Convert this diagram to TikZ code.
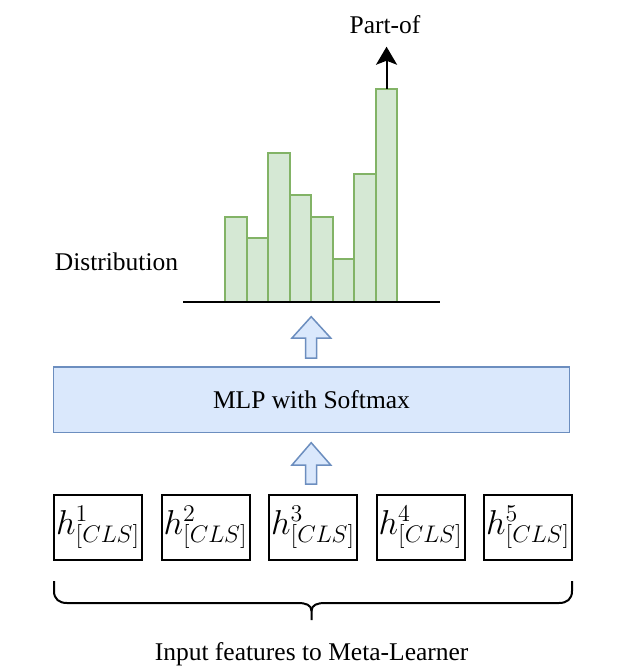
\documentclass[tikz,border=0pt]{standalone}
\usepackage{fontspec}
\setmainfont{Liberation Serif}
\usetikzlibrary{arrows.meta}
\definecolor{barfill}{HTML}{D5E8D4}
\definecolor{barline}{HTML}{82B366}
\definecolor{blfill}{HTML}{DAE8FC}
\definecolor{blline}{HTML}{6C8EBF}
\begin{document}
\begin{tikzpicture}[x=0.5pt,y=-0.5pt,
 lbl/.style={font=\fontsize{12.75}{15}\selectfont, inner sep=0pt},
 bar/.style={draw=barline, fill=barfill, line width=1pt, inner sep=0pt, outer sep=0pt, minimum width=10.77pt, anchor=south west},
 mlpbox/.style={draw=blline, fill=blfill, line width=0.75pt, minimum width=258pt, minimum height=32.75pt, inner sep=0pt, font=\fontsize{12.75}{15}\selectfont},
 featbox/.style={draw=black, line width=1pt, minimum width=44pt, minimum height=32.5pt, inner sep=0pt, font=\fontsize{16.5}{18}\selectfont},
 blockarrow/.style={draw=blline, fill=blfill, line width=0.75pt, line join=miter},
 blackline/.style={draw=black, line width=1pt},
]
\useasboundingbox[fill=white] (0,0) rectangle (623,671);

% histogram
\foreach \h [count=\i] in {4,3,7,5,4,2,6,10}
  \node[bar, minimum height=\h*10.675pt] (b\i) at ({225+(\i-1)*21.54}, 302) {};
\coordinate (axl) at (183,302);
\coordinate (axr) at (440,302);
\draw[blackline] (axl) -- (axr);

\node[lbl, anchor=base] (partof) at (385,33.3) {Part-of};
\coordinate (ptip) at (386.5,46.7);
\draw[blackline, -{Stealth[length=9pt,width=10.5pt,inset=2pt]}] (b8.north) -- (b8.north |- ptip);

\node[lbl, anchor=base] (dist) at (116.5,270) {Distribution};

% MLP
\node[mlpbox] (mlp) at (311.5,399.5) {MLP with Softmax};

% block arrows
\draw[blockarrow] (305.7,358) -- (305.7,338) -- (292,338) -- (311.2,316.7) -- (330.7,338) -- (316.7,338) -- (316.7,358) -- cycle;
\draw[blockarrow] (305.7,484) -- (305.7,465) -- (292,465) -- (311.2,442.7) -- (330.7,465) -- (316.7,465) -- (316.7,484) -- cycle;

% features
\foreach \i in {1,...,5}
  \node[featbox] (f\i) at ({98.2+(\i-1)*107.5}, 527.5) {$h^{\i}_{[CLS]}$};

% brace
\draw[blackline] (54,581) -- (54,591) .. controls (54,599) and (59,603) .. (67,603) -- (298,603) .. controls (306,603) and (311.5,605) .. (311.5,611) -- (311.5,620);
\draw[blackline] (572,581) -- (572,591) .. controls (572,599) and (567,603) .. (559,603) -- (325,603) .. controls (317,603) and (311.5,605) .. (311.5,611);

\node[lbl, anchor=base] (inp) at (311.6,660) {Input features to Meta-Learner};
\end{tikzpicture}
\end{document}
